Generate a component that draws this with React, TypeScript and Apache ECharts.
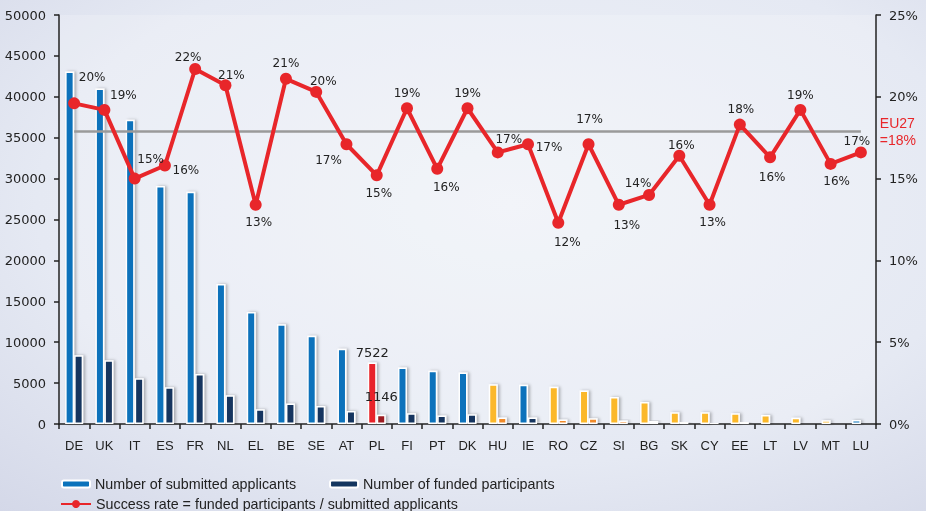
import React, { useEffect, useRef } from "react";
import * as echarts from "echarts";

const categories = ["DE","UK","IT","ES","FR","NL","EL","BE","SE","AT","PL","FI","PT","DK","HU","IE","RO","CZ","SI","BG","SK","CY","EE","LT","LV","MT","LU"];
const submitted = [43100,41000,37200,29100,28400,17100,13700,12200,10800,9200,7522,6900,6500,6300,4850,4800,4550,4100,3300,2700,1450,1450,1300,1100,750,450,500];
const funded = [8400,7800,5600,4500,6100,3500,1800,2500,2200,1600,1146,1300,1050,1200,800,800,550,700,430,380,240,190,240,180,140,70,85];
const successRate = [19.6,19.2,15.0,15.8,21.7,20.7,13.4,21.1,20.3,17.1,15.2,19.3,15.6,19.3,16.6,17.1,12.3,17.1,13.4,14.0,16.4,13.4,18.3,16.3,19.2,15.9,16.6];
const eu27Rate = 17.9;
const eu27Label = ["EU27", "=18%"];
const newMemberStates = ["HU","RO","CZ","SI","BG","SK","CY","EE","LT","LV","MT"];
const highlighted = "PL";
const leftTicks = { min: 0, max: 50000, interval: 5000 };
const rightTicks = { min: 0, max: 25, interval: 5 };
const seriesNames = [
  "Number of submitted applicants",
  "Number of funded participants",
  "Success rate = funded participants / submitted applicants",
];

// label placement offsets (style only)
const rateLabelOffsets = [[18,-9],[19,2],[16,-3],[21,21],[-7,5],[6,7],[3,34],[0,1],[7,6],[-18,33],[2,35],[0,2],[9,35],[0,2],[11,4],[21,20],[9,36],[1,-8],[8,37],[-11,5],[2,6],[3,34],[1,1],[2,37],[0,2],[6,34],[-4,6]];

const C = {
  blue: "#0A72BB",
  navy: "#14365F",
  yellow: "#FBB829",
  orange: "#F08A2B",
  red: "#E8242A",
  darkRed: "#9C1B20",
  line: "#E8262A",
  text: "#222222",
};

const barShadow = {
  borderColor: "#ffffff",
  borderWidth: 1.5,
  shadowColor: "rgba(0,0,0,0.28)",
  shadowBlur: 3,
  shadowOffsetX: 2,
};

export default function App() {
  const ref = useRef<HTMLDivElement>(null);
  useEffect(() => {
    if (!ref.current) return;
    const chart = echarts.init(ref.current, undefined, { renderer: "svg" });
    const dejavu = "DejaVu Sans";
    const subData = submitted.map((v, i) => {
      const c = categories[i];
      const color = c === highlighted ? C.red : newMemberStates.includes(c) ? C.yellow : C.blue;
      const item: any = { value: v, itemStyle: { color } };
      if (c === highlighted) {
        item.label = { show: true, position: "top", offset: [0, 2], formatter: "{c}", fontFamily: dejavu, fontSize: 13, color: C.text };
      }
      return item;
    });
    const fundData = funded.map((v, i) => {
      const c = categories[i];
      const color = c === highlighted ? C.darkRed : newMemberStates.includes(c) ? C.orange : C.navy;
      const item: any = { value: v, itemStyle: { color } };
      if (c === highlighted) {
        item.label = { show: true, position: "top", offset: [0, -7], formatter: "{c}", fontFamily: dejavu, fontSize: 13, color: C.text };
      }
      return item;
    });
    const rateData = successRate.map((v, i) => ({ value: v, label: { offset: rateLabelOffsets[i] } }));

    const option: any = {
      animation: false,
      backgroundColor: {
        type: "radial", x: 0.55, y: 0.4, r: 0.85,
        colorStops: [
          { offset: 0, color: "#eff2f8" },
          { offset: 0.6, color: "#e5e9f3" },
          { offset: 1, color: "#d2d6e7" },
        ],
      },
      grid: { left: 59, right: 50, top: 15, bottom: 87, show: true, backgroundColor: "rgba(255,255,255,0.2)", borderWidth: 0, outerBoundsMode: "none" },
      legend: [
        {
          data: [seriesNames[0], seriesNames[1]],
          left: 56, top: 472, itemWidth: 28, itemHeight: 7, itemGap: 33,
          textStyle: { fontFamily: "Liberation Sans", fontSize: 14.3, color: C.text },
        },
        {
          data: [seriesNames[2]],
          left: 55, top: 492, itemWidth: 30, itemHeight: 10,
          textStyle: { fontFamily: "Liberation Sans", fontSize: 14.3, color: C.text },
        },
      ],
      xAxis: {
        type: "category",
        data: categories,
        boundaryGap: true,
        axisLine: { lineStyle: { color: C.text, width: 1.5 } },
        axisTick: { show: true, length: 5, lineStyle: { color: C.text, width: 1.5 } },
        axisLabel: { fontFamily: "Liberation Sans Narrow, Liberation Sans", fontSize: 13, color: C.text, margin: 15 },
      },
      yAxis: [
        {
          type: "value", ...leftTicks,
          axisLine: { show: true, lineStyle: { color: C.text, width: 1.5 } },
          axisTick: { show: true, length: 5, lineStyle: { color: C.text, width: 1.5 } },
          axisLabel: { fontFamily: dejavu, fontSize: 13, color: C.text, margin: 13, formatter: (v: number) => String(v) },
          splitLine: { show: false },
        },
        {
          type: "value", ...rightTicks, position: "right",
          axisLine: { show: true, lineStyle: { color: C.text, width: 1.5 } },
          axisTick: { show: true, length: 5, lineStyle: { color: C.text, width: 1.5 } },
          axisLabel: { fontFamily: dejavu, fontSize: 13, color: C.text, margin: 13, formatter: "{value}%" },
          splitLine: { show: false },
        },
      ],
      series: [
        {
          name: seriesNames[0], type: "bar", data: subData, barWidth: 9, barGap: "0%",
          itemStyle: { color: C.blue, ...barShadow },
        },
        {
          name: seriesNames[1], type: "bar", data: fundData, barWidth: 9, barGap: "0%",
          itemStyle: { color: C.navy, ...barShadow },
        },
        {
          name: seriesNames[2], type: "line", yAxisIndex: 1, data: rateData,
          symbol: "circle", symbolSize: 12,
          lineStyle: { color: C.line, width: 4 },
          itemStyle: { color: C.line },
          label: {
            show: true, position: "top", fontFamily: dejavu, fontSize: 12, color: C.text,
            formatter: (p: any) => Math.round(p.value) + "%",
          },
          markLine: {
            silent: true, symbol: ["none", "none"],
            lineStyle: { color: "#9a9a9a", width: 2.5, type: "solid" },
            label: {
              show: true, position: "end", distance: 19,
              formatter: eu27Label.join("\n"),
              fontFamily: "Liberation Sans", fontSize: 14, lineHeight: 17, color: C.line, align: "left",
            },
            data: [[{ coord: [0, eu27Rate] }, { coord: [categories.length - 1, eu27Rate] }]],
          },
          z: 5,
        },
      ],
    };
    chart.setOption(option);
    return () => chart.dispose();
  }, []);
  return <div ref={ref} style={{ position: "fixed", left: 0, top: 0, width: 926, height: 511 }} />;
}
